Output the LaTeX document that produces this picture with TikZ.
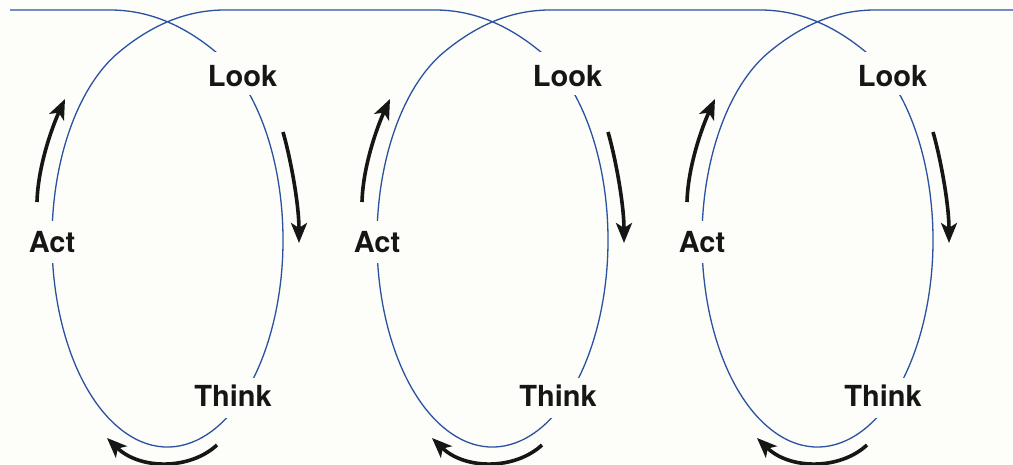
\documentclass[tikz,border=0pt]{standalone}
\usepackage{fontspec}
\setmainfont{TeX Gyre Heros}
\usetikzlibrary{arrows.meta}
\definecolor{loopblue}{RGB}{42,82,160}
\definecolor{bgcol}{RGB}{253,253,249}
\definecolor{inkcol}{RGB}{22,22,22}
\begin{document}
\begin{tikzpicture}[x=1pt,y=1pt,
  loopline/.style={draw=loopblue,line width=1.3pt},
  flowarrow/.style={draw=inkcol,line width=3.6pt,-{Stealth[length=20pt,width=16pt,inset=5pt]}},
  stagelabel/.style={fill=bgcol,inner xsep=3pt,inner ysep=0pt,anchor=base,
    font=\fontsize{29}{34}\selectfont\bfseries,text=inkcol}]
\fill[bgcol] (0,0) rectangle (1013,465);
\useasboundingbox (0,0) rectangle (1013,465);
% the continuous spiral line
\draw[loopline] (10,455) -- (110,455)
  .. controls (150,455) and (184.9,438.85) .. (216.3,412.6)
  arc[start angle=65,end angle=-245,x radius=115.5,y radius=207]
  .. controls (150.1,438.85) and (185,455) .. (225,455)
  -- (435,455)
  .. controls (475,455) and (509.9,438.85) .. (541.3,412.6)
  arc[start angle=65,end angle=-245,x radius=115.5,y radius=207]
  .. controls (475.1,438.85) and (510,455) .. (550,455)
  -- (760,455)
  .. controls (800,455) and (834.9,438.85) .. (866.3,412.6)
  arc[start angle=65,end angle=-245,x radius=115.5,y radius=207]
  .. controls (800.1,438.85) and (835,455) .. (875,455)
  -- (1013,455);
\foreach \ox/\n in {0/1,325/2,650/3}{
  \node[stagelabel,text height=35pt,text depth=8pt] (look\n) at (\ox+242.5,378) {Look};
  \node[stagelabel,text height=29pt,text depth=11pt] (think\n) at (\ox+233,58) {Think};
  \node[stagelabel,text height=32pt,text depth=10pt] (act\n) at (\ox+52,212) {Act};
  \coordinate (upS\n) at (\ox+37,263);
  \coordinate (upE\n) at (\ox+65,366);
  \coordinate (dnS\n) at (\ox+283,333);
  \coordinate (dnE\n) at (\ox+299,222);
  \coordinate (btS\n) at (\ox+217,20);
  \coordinate (btE\n) at (\ox+107,27);
  \draw[flowarrow] (upS\n) .. controls ++(1,37) and ++(-12,-26) .. (upE\n);
  \draw[flowarrow] (dnS\n) .. controls ++(8,-28) and ++(0,38) .. (dnE\n);
  \draw[flowarrow] (btS\n) .. controls ++(-27,-25) and ++(33,-32) .. (btE\n);
}
\end{tikzpicture}
\end{document}
